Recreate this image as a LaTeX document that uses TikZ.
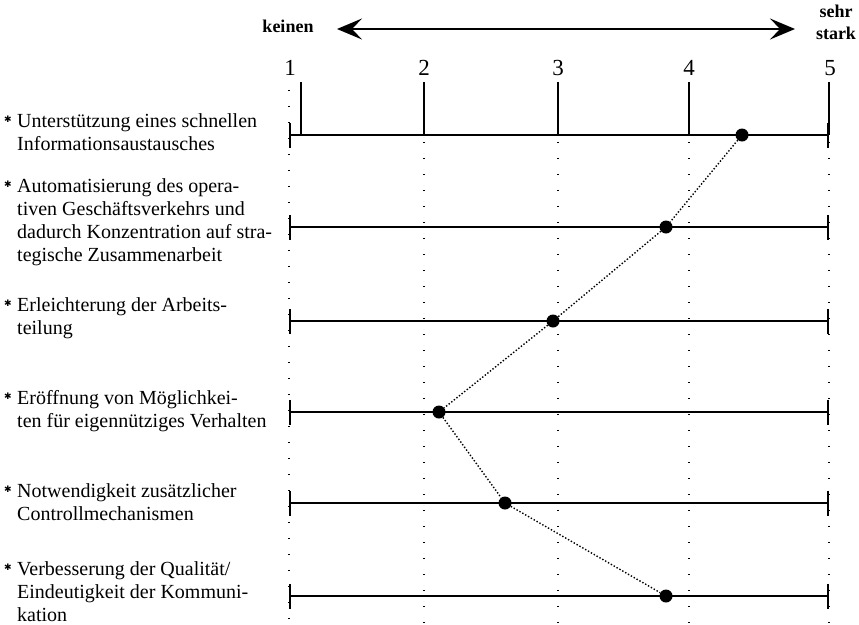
\documentclass[tikz,border=0pt]{standalone}
\usepackage{fontspec}
\setmainfont{Liberation Serif}
\newfontfamily\symfont{DejaVu Sans}
\usetikzlibrary{arrows.meta}
\begin{document}
\begin{tikzpicture}[x=1pt,y=-1pt,
  lab/.style={anchor=north west, inner sep=0pt, align=left,
    font=\fontsize{20}{23}\selectfont, execute at begin node={\rule{0pt}{17pt}}},
  bul/.style={anchor=center, inner sep=0pt, font=\fontsize{9}{9}\selectfont\symfont},
  num/.style={anchor=base, inner sep=0pt, font=\fontsize{23}{23}\selectfont},
  pole/.style={inner sep=0pt, align=center, font=\fontsize{18}{22}\selectfont\bfseries},
  scaleline/.style={line width=2pt, {Bar[width=25pt,line width=2pt]}-{Bar[width=25pt,line width=2pt]}},
  tickline/.style={line width=1.8pt},
  gridline/.style={line width=1.3pt, dash pattern=on 1.3pt off 14.7pt},
  val/.style={circle, fill=black, inner sep=0pt, minimum size=13pt},
  conn/.style={line width=1.4pt, dash pattern=on 1.4pt off 1.9pt},
  dirarrow/.style={line width=1.8pt, {Stealth[length=25pt,width=21pt,inset=10pt]}-{Stealth[length=25pt,width=21pt,inset=10pt]}}]
\useasboundingbox (0,0) rectangle (859,624);

% direction of the scale
\node[pole, anchor=base] (keinen) at (288,32) {keinen};
\node[pole, anchor=north] (sehr) at (836,5) {sehr\\stark};
\coordinate (aL) at (337,29);
\coordinate (aR) at (795,29);
\draw[dirarrow] (aL) -- (aR);

% scale values
\node[num] (n1) at (290,75) {1};
\node[num] (n2) at (424,75) {2};
\node[num] (n3) at (558,75) {3};
\node[num] (n4) at (689,75) {4};
\node[num] (n5) at (830,75) {5};

% dotted guide lines
\foreach \x in {424,558,689,829}
  \draw[gridline] (\x,142) -- (\x,624);
\draw[gridline] (289,90) -- (289,624);

% ticks above the first row
\draw[tickline] (301,82) -- (301,135);
\draw[tickline] (424,82) -- (424,135);
\draw[tickline] (558,82) -- (558,135);
\draw[tickline] (689,82) -- (689,135);
\draw[tickline] (829,82) -- (829,135);

% rating rows
\foreach \y in {135,227,321,412,503,596}
  \draw[scaleline] (289,\y) -- (829,\y);

% items
\node[bul] (b1) at (8,119) {✱};
\node[lab] (l1) at (17,113) {Unterstützung eines schnellen\\Informationsaustausches};
\node[bul] (b2) at (8,184) {✱};
\node[lab] (l2) at (17,178) {Automatisierung des opera-\\tiven Geschäftsverkehrs und\\dadurch Konzentration auf stra-\\tegische Zusammenarbeit};
\node[bul] (b3) at (8,303) {✱};
\node[lab] (l3) at (17,297) {Erleichterung der Arbeits-\\teilung};
\node[bul] (b4) at (8,396) {✱};
\node[lab] (l4) at (17,390) {Eröffnung von Möglichkei-\\ten für eigennütziges Verhalten};
\node[bul] (b5) at (8,489) {✱};
\node[lab] (l5) at (17,483) {Notwendigkeit zusätzlicher\\Controllmechanismen};
\node[bul] (b6) at (8,567) {✱};
\node[lab] (l6) at (17,561) {Verbesserung der Qualität/\\Eindeutigkeit der Kommuni-\\kation};

% ratings
\node[val] (p1) at (742,135) {};
\node[val] (p2) at (666,227) {};
\node[val] (p3) at (553,321) {};
\node[val] (p4) at (439,412) {};
\node[val] (p5) at (505,503) {};
\node[val] (p6) at (666,596) {};
\draw[conn] (p1) -- (p2) -- (p3) -- (p4) -- (p5) -- (p6);
\end{tikzpicture}
\end{document}
